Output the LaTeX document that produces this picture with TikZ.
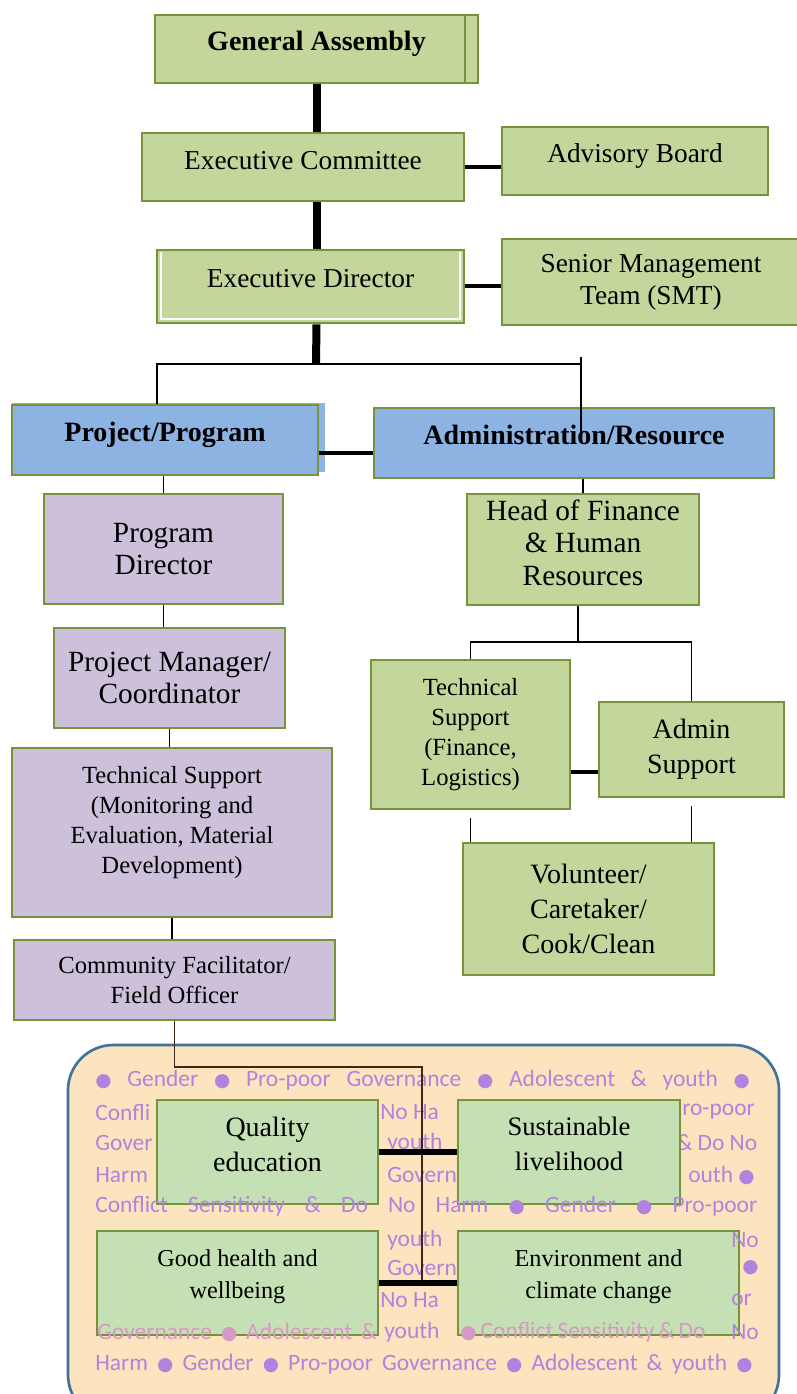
\documentclass[tikz,border=0pt]{standalone}
\usepackage{fontspec}
\setmainfont{Liberation Serif}
\newfontfamily\calfont{Carlito}
\newfontfamily\dejavu{DejaVu Sans}
\usetikzlibrary{positioning,calc}

\definecolor{boxgreen}{RGB}{195,214,155}
\definecolor{boxedge}{RGB}{119,147,60}
\definecolor{unitblue}{RGB}{141,179,226}
\definecolor{staffpurple}{RGB}{204,192,218}
\definecolor{goalgreen}{RGB}{197,224,180}
\definecolor{themefill}{RGB}{252,229,190}
\definecolor{themeedge}{RGB}{65,113,156}
\definecolor{themetext}{RGB}{178,130,222}
\definecolor{themefaded}{RGB}{214,152,196}
\definecolor{linkbrown}{RGB}{60,40,20}

% cross-cutting themes written behind the goals
\newcommand\gdot{{\dejavu\fontsize{14}{14}\selectfont ●}}

\begin{document}
\begin{tikzpicture}[x=0.75pt, y=-0.75pt,
    orgbox/.style={draw=boxedge, line width=2pt, fill=boxgreen, align=center, inner sep=1pt},
    unitbox/.style={orgbox, fill=unitblue},
    staffbox/.style={orgbox, fill=staffpurple},
    goalbox/.style={orgbox, fill=goalgreen},
    wh/.style 2 args={minimum width=#1*0.75pt, minimum height=#2*0.75pt},
    lift/.style={text depth=#1},
    txtA/.style={font=\fontsize{20.5}{24}\selectfont},
    txtB/.style={font=\fontsize{22}{24.5}\selectfont},
    txtC/.style={font=\fontsize{18.5}{22.5}\selectfont},
    txtD/.style={font=\fontsize{21}{26.25}\selectfont},
    txtE/.style={font=\fontsize{18.2}{24}\selectfont},
    boldtxt/.style={font=\bfseries\fontsize{21}{24}\selectfont},
    mainline/.style={line width=6pt},
    sideline/.style={line width=3pt},
    thinline/.style={line width=1.3pt},
    themetxt/.style={font=\calfont\fontsize{17.6}{20}\selectfont, text=themetext, inner sep=0pt, anchor=west}
]
    \useasboundingbox (0,0) rectangle (796,1394);

    % Governance
    \node[orgbox, wh={323}{68}, boldtxt, lift=12pt,
        path picture={\draw[boxedge, line width=2pt]
            ($(path picture bounding box.north east)+(-13,0)$) --
            ($(path picture bounding box.south east)+(-13,0)$);}]
        (ga) at (316.5,49) {General Assembly};
    \node[orgbox, wh={322}{68}, txtA, lift=10.5pt] (ec) at (303,167) {Executive Committee};
    \node[orgbox, wh={266}{68}, txtA, lift=12pt] (ab) at (635,161) {Advisory Board};
    \node[orgbox, wh={307}{73}, txtA, lift=12.5pt,
        path picture={\draw[white, line width=1.5pt]
            ($(path picture bounding box.north west)+(4,2)$) --
            ($(path picture bounding box.south west)+(4,-4)$) --
            ($(path picture bounding box.south east)+(-4,-4)$) --
            ($(path picture bounding box.north east)+(-4,2)$);}]
        (ed) at (310.5,286.5) {Executive Director};
    \node[orgbox, wh={298}{86}, txtA] (smt) at (651,282) {Senior Management\\Team (SMT)};

    % Units
    \fill[unitblue] (12,403) rectangle (325,472);
    \node[unitbox, wh={306}{70}, boldtxt, lift=12pt] (pp) at (165,440) {Project/Program};
    \node[unitbox, wh={400}{70}, boldtxt, lift=12pt] (ar) at (574,443) {Administration/Resource};

    % Program side
    \node[staffbox, wh={239}{110}, txtB] (pd) at (163.5,549) {Program\\Director};
    \node[staffbox, wh={231}{100}, txtB] (pm) at (169.5,678) {Project Manager/\\Coordinator};
    \node[staffbox, wh={320}{169}, txtC, lift=19.5pt] (ts) at (172,832.5)
        {Technical Support\\(Monitoring and\\Evaluation, Material\\Development)};
    \node[staffbox, wh={321}{80}, txtC] (cf) at (174.5,980) {Community Facilitator/\\Field Officer};

    % Resource side
    \node[orgbox, wh={232}{111}, txtB, lift=10.5pt] (hf) at (583,549.5) {Head of Finance\\\& Human\\Resources};
    \node[orgbox, wh={199}{149}, txtC] (tsf) at (470.5,734.5) {Technical\\Support\\(Finance,\\Logistics)};
    \node[orgbox, wh={185}{95}, txtD] (as) at (691.5,749.5) {Admin\\Support};
    \node[orgbox, wh={251}{132}, txtD] (vc) at (588.5,909) {Volunteer/\\Caretaker/\\Cook/Clean};

    % Governance links
    \coordinate (split) at (316,364);
    \draw[mainline] (ga.south) -- (ga.south |- ec.north);
    \draw[mainline] (ga.south |- ec.south) -- (ga.south |- ed.north);
    \draw[mainline] (ga.south |- ed.south) -- (split);
    \draw[sideline] (ec.east) -- (ec.east -| ab.west);
    \draw[sideline] (ed.east) -- (ed.east -| smt.west);

    % Units links
    \coordinate (forkl) at (157,364);
    \coordinate (forkr) at (581,364);
    \draw[thinline] (forkl |- pp.north) -- (forkl) -- (forkr);
    \draw[thinline] ($(forkr)+(0,-7)$) -- ($(forkr)+(0,76)$);
    \path ($(pp.east)+(0,13)$) coordinate (ppr);
    \draw[sideline] (ppr) -- (ppr -| ar.west);

    % Program chain
    \draw[thinline] (pd.north) -- (pd.north |- pp.south);
    \draw[thinline] (pd.south) -- (pd.south |- pm.north);
    \draw[thinline] (pm.south) -- (pm.south |- ts.north);
    \draw[thinline] (ts.south) -- (ts.south |- cf.north);

    % Resource chain
    \draw[thinline] (hf.north) -- (hf.north |- ar.south);
    \path ($(hf.south)+(-5,36)$) coordinate (fork);
    \draw[thinline] (fork |- hf.south) -- (fork);
    \draw[thinline] (tsf.north) |- (fork) -| (as.north);
    \path ($(as.west)+(0,22)$) coordinate (asl);
    \draw[sideline] (asl) -- (asl -| tsf.east);
    \draw[thinline] ($(tsf.south)+(0,8)$) -- (tsf.south |- vc.north);
    \draw[thinline] ($(as.south)+(0,8)$) -- (as.south |- vc.north);

    % Goals area
    \draw[themeedge, fill=themefill, line width=2pt, rounded corners=34pt]
        (68,1045) rectangle (779,1420);
    \node[themetxt] (kwtop) at (95,1080)
        {\makebox[491pt][s]{\gdot{} Gender \gdot{} Pro-poor Governance \gdot{} Adolescent \& youth \gdot}};
    \foreach \fx/\fy/\ftxt [count=\i] in {
            95/1112/Confli, 380/1112/No Ha, 682/1112/ro-poor,
            95/1143/Gover, 387/1143/youth, 676/1143/\& Do No,
            95/1175/Harm, 387/1175/Govern, 688/1175/outh \gdot,
            387/1240/youth, 387/1268/Govern,
            95/1300/C, 380/1300/No Ha}
        \node[themetxt] (kw\i) at (\fx,\fy) {\ftxt};

    \coordinate (hub) at (422,1281);
    \draw[linkbrown, thinline] (cf.south) -- ++(0,46) -| (hub);

    \node[goalbox, wh={221}{104}, txtD, lift=12pt] (qe) at (267.5,1152) {Quality\\education};
    \node[goalbox, wh={222}{104}, font=\fontsize{20}{26.25}\selectfont, lift=12pt]
        (sl) at (569,1152) {Sustainable\\livelihood};
    \node[goalbox, wh={281}{104}, txtE, lift=13.5pt] (gh) at (237.5,1283) {Good health and\\wellbeing};
    \node[goalbox, wh={281}{104}, txtE, lift=13.5pt] (en) at (598.5,1283) {Environment and\\climate change};

    \draw[sideline, line width=4pt] (qe.east) -- (qe.east -| sl.west);
    \draw[sideline, line width=4pt] (gh.east) -- (gh.east -| en.west);

    % theme lines running over the goal boxes
    \node[themetxt] (kwmid) at (95,1206)
        {\makebox[496.5pt][s]{Conflict Sensitivity \& Do No Harm \gdot{} Gender \gdot{} Pro-poor}};
    \node[themetxt] (kwedgea) at (731,1240) {No};
    \node[themetxt] (kwedgeb) at (742,1268) {\gdot};
    \node[themetxt] (kwedgec) at (731,1300) {or};
    \node[themetxt, text=themefaded] (kwlowa) at (97,1332)
        {\makebox[210pt][s]{Governance \gdot{} Adolescent \&}};
    \node[themetxt] (kwlowb) at (384,1332) {youth};
    \node[themetxt, text=themefaded] (kwlowc) at (460,1332)
        {\makebox[184pt][s]{\gdot{} Conflict Sensitivity \& Do}};
    \node[themetxt] (kwlowd) at (731,1332) {No};
    \node[themetxt] (kwbot) at (95,1364)
        {\makebox[493pt][s]{Harm \gdot{} Gender \gdot{} Pro-poor Governance \gdot{} Adolescent \& youth \gdot}};
\end{tikzpicture}
\end{document}
